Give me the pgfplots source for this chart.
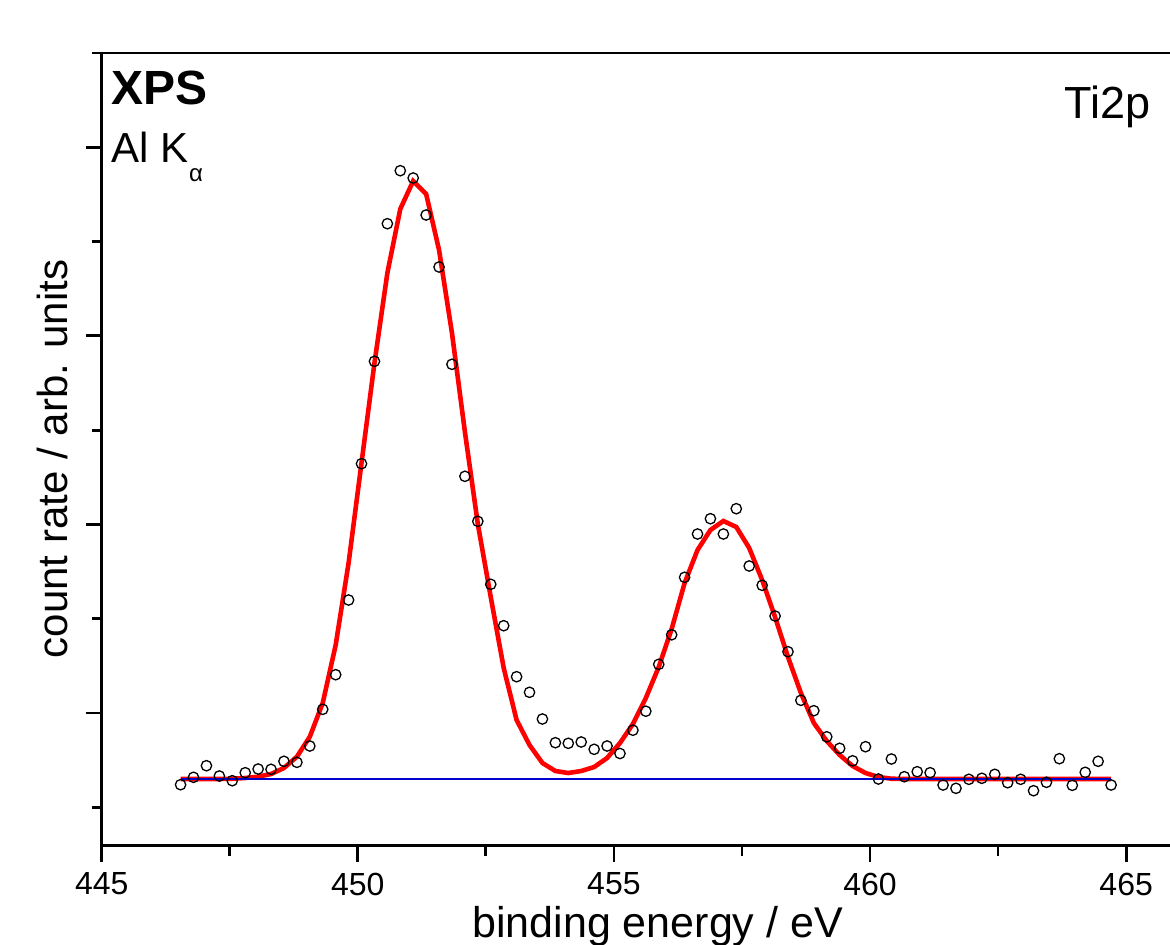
\documentclass[border=0pt]{standalone}
\usepackage{fontspec}
\setmainfont{Liberation Sans}
\usepackage{pgfplots}
\usepackage{pgfplotstable}
\pgfplotsset{compat=1.18}

% binding energy, measured counts, fit (arb. units)
\pgfplotstableread{
be counts fit
446.540 61.0 66.7
446.792 68.4 66.7
447.045 80.0 66.7
447.297 69.7 66.7
447.549 65.0 67.0
447.802 73.0 67.7
448.054 76.7 69.0
448.306 76.4 71.7
448.558 84.4 77.7
448.811 83.4 89.0
449.063 99.7 109.0
449.315 136.4 142.7
449.568 171.0 200.7
449.820 245.7 282.7
450.072 382.0 382.7
450.325 484.4 482.7
450.577 622.0 572.7
450.829 675.0 636.7
451.081 667.7 664.7
451.334 630.7 651.7
451.586 578.7 595.7
451.838 481.4 512.7
452.091 369.4 413.7
452.343 324.4 321.7
452.595 261.4 248.7
452.848 220.0 177.7
453.100 169.0 125.7
453.352 153.4 100.7
453.604 126.7 82.7
453.857 103.0 74.7
454.109 102.4 72.7
454.361 103.7 74.7
454.614 96.4 78.7
454.866 99.7 87.7
455.118 92.2 102.7
455.371 115.5 121.7
455.623 134.5 147.7
455.875 181.4 178.7
456.127 210.9 216.7
456.380 268.4 262.7
456.632 311.7 295.7
456.884 327.0 315.7
457.137 311.7 324.7
457.389 337.0 318.7
457.641 279.7 297.7
457.894 260.4 265.7
458.146 229.7 228.7
458.398 194.0 188.7
458.650 145.4 152.7
458.903 135.0 122.7
459.155 108.9 104.7
459.407 97.4 90.7
459.660 84.9 79.7
459.912 99.0 72.7
460.164 66.7 68.7
460.417 86.7 67.0
460.669 69.0 66.7
460.921 74.0 66.7
461.173 73.0 66.7
461.426 60.7 66.7
461.678 57.4 66.7
461.930 66.4 66.7
462.183 67.4 66.7
462.435 71.4 66.7
462.687 63.0 66.7
462.940 66.4 66.7
463.192 55.0 66.7
463.444 63.4 66.7
463.696 87.0 66.7
463.949 60.4 66.7
464.201 73.4 66.7
464.453 84.4 66.7
464.706 60.7 66.7
}\tispec

\begin{document}
\begin{tikzpicture}[x=0.5pt,y=0.5pt]
\useasboundingbox (0,0) rectangle (1170,944);
\clip (0,0) rectangle (1170,944);
\begin{axis}[
    at={(50.85pt,49.15pt)}, anchor=south west,
    scale only axis, width=542.95pt, height=396.35pt,
    xmin=445, xmax=466.2, ymin=0, ymax=792.7,
    axis line style={line width=1.4pt},
    every tick/.style={black, line width=1.4pt},
    tick align=outside,
    major tick length=8pt, minor tick length=5pt,
    xtick={445,450,455,460,465}, minor x tick num=1,
    ytick={132.7,321.3,509.9,698.5}, yticklabels={},
    minor ytick={38.4,227,415.6,604.2,792.7},
    xtick pos=bottom, ytick pos=left,
    /pgf/number format/assume math mode=true,
    /pgf/number format/1000 sep={},
    xticklabel style={font=\fontsize{16}{18}\selectfont, yshift=-2pt},
    xlabel={binding energy / eV},
    xlabel style={font=\fontsize{21.5}{24}\selectfont,
        at={(axis description cs:0.512,-0.116)}, anchor=base},
    ylabel={count rate / arb. units},
    ylabel style={font=\fontsize{21}{24}\selectfont,
        at={(axis description cs:-0.0317,0.488)}, anchor=base},
]
\addplot[red, line width=2.3pt] table[x=be, y=fit] {\tispec};
\addplot[blue!80!black, line width=0.6pt] coordinates {(446.540,66.7) (464.706,66.7)};
\addplot[only marks, mark=o, mark size=2.6pt,
    mark options={black, line width=0.65pt}] table[x=be, y=counts] {\tispec};

\node[anchor=base west, inner sep=0, font=\fontsize{24}{24}\selectfont\bfseries]
    at (axis description cs:0.0083,0.9344) {XPS};
\node[anchor=base west, inner sep=0, font=\fontsize{21}{22}\selectfont]
    at (axis description cs:0.0083,0.8616)
    {Al K\kern0.5pt\raisebox{-9.5pt}{\fontsize{12}{12}\selectfont α}};
\node[anchor=base west, inner sep=0, font=\fontsize{22.5}{23}\selectfont]
    at (axis description cs:0.8862,0.9176) {Ti2p};
\end{axis}
\end{tikzpicture}
\end{document}
